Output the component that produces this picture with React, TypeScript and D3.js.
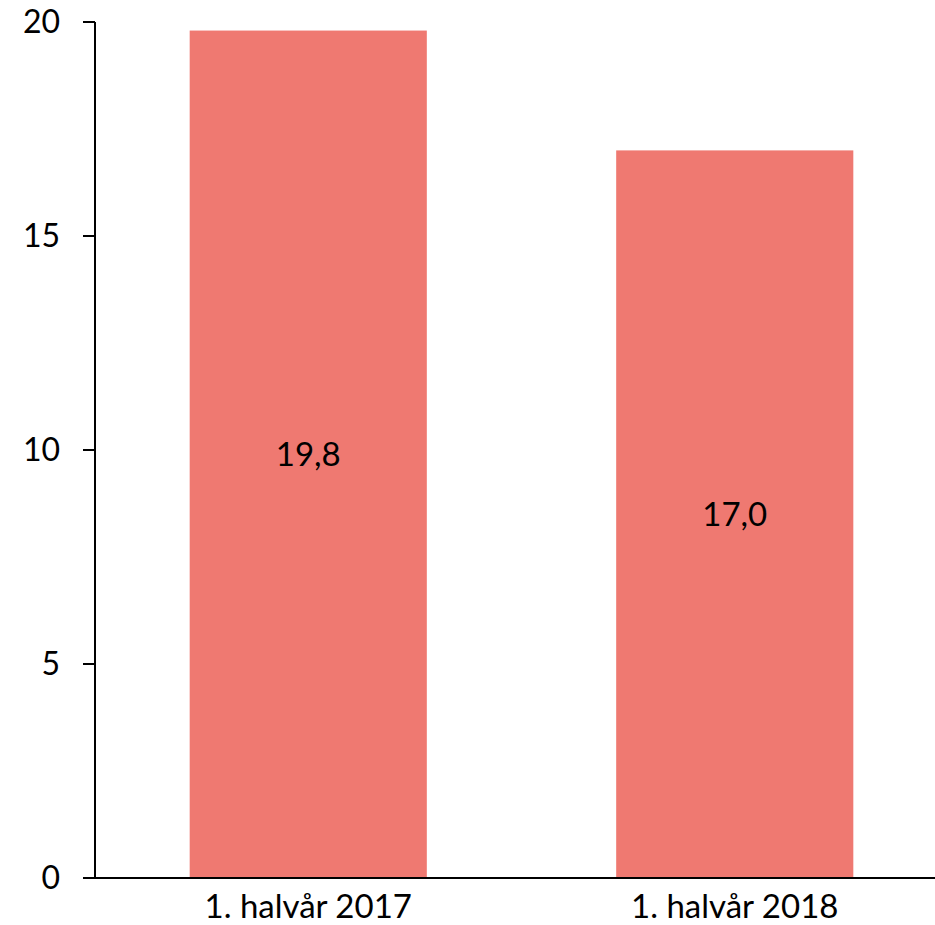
import React, { useEffect } from 'react'
import { scaleBand, scaleLinear } from 'd3'

const categories = ['1. halvår 2017', '1. halvår 2018']
const values = [19.8, 17.0]
const valueLabels = ['19,8', '17,0']
const yTicks = [0, 5, 10, 15, 20]

export default function App() {
  useEffect(() => {
    document.body.style.margin = '0'
  }, [])

  const width = 935
  const height = 925
  const left = 95
  const top = 22
  const bottom = 878

  const x = scaleBand().domain(categories).range([left, 948]).paddingInner(0.444).paddingOuter(0.222)
  const y = scaleLinear().domain([0, 20]).range([bottom, top])
  const font = 'Lato, "Open Sans", sans-serif'

  return (
    <svg width={width} height={height} style={{ display: 'block' }}>
      {categories.map((c, i) => (
        <g key={c}>
          <rect x={x(c)} y={y(values[i])} width={x.bandwidth()} height={y(0) - y(values[i])} fill='#EF7971' />
          <text x={x(c)! + x.bandwidth() / 2} y={(y(values[i]) + y(0)) / 2 + 12} textAnchor='middle' fontFamily={font} fontSize={33} fill='#000'>
            {valueLabels[i]}
          </text>
          <text x={x(c)! + x.bandwidth() / 2} y={918} textAnchor='middle' fontFamily={font} fontSize={33} fill='#000'>
            {c}
          </text>
        </g>
      ))}
      <line x1={left} x2={left} y1={top} y2={bottom} stroke='#000' strokeWidth={2} />
      <line x1={83} x2={width} y1={bottom} y2={bottom} stroke='#000' strokeWidth={2} />
      {yTicks.map(t => (
        <g key={t}>
          <line x1={83} x2={left} y1={y(t)} y2={y(t)} stroke='#000' strokeWidth={2} />
          <text x={60} y={y(t) + 11} textAnchor='end' fontFamily={font} fontSize={32} fill='#000'>
            {t}
          </text>
        </g>
      ))}
    </svg>
  )
}
